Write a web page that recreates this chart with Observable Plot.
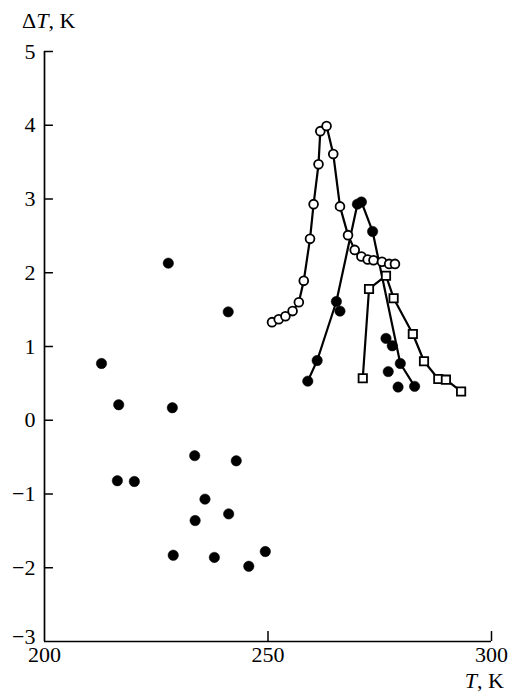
<!DOCTYPE html>
<html>
<head>
<meta charset="utf-8">
<script src="https://cdn.jsdelivr.net/npm/d3@7"></script>
<script src="https://cdn.jsdelivr.net/npm/@observablehq/plot@0.6"></script>
<style>
  html, body { margin: 0; padding: 0; background: #fff; }
  #chart svg { font-family: "Liberation Serif", "DejaVu Serif", serif; }
  #chart svg text { font-size: 22px; fill: #000; }
</style>
</head>
<body>
<div id="chart"></div>
<script>
// Open circles (connected)
const openT  = [250.9, 252.4, 253.9, 255.5, 256.9, 258.0, 259.4, 260.2, 261.3, 261.7, 263.1, 264.6, 266.1, 267.9, 269.4, 270.9, 272.3, 273.6, 275.5, 277.1, 278.4];
const opendT = [1.33, 1.37, 1.41, 1.48, 1.60, 1.89, 2.46, 2.93, 3.47, 3.92, 3.99, 3.61, 2.90, 2.51, 2.31, 2.22, 2.18, 2.17, 2.15, 2.12, 2.12];
// Filled circles (connected)
const lineT  = [258.9, 261.0, 265.3, 270.0, 270.9, 273.4, 279.6, 282.8];
const linedT = [0.53, 0.81, 1.61, 2.93, 2.96, 2.56, 0.77, 0.46];
// Filled circles (scattered)
const scatT  = [227.7, 241.1, 212.75, 216.6, 228.6, 216.3, 220.1, 233.6, 242.9, 235.9, 241.2, 233.7, 228.8, 238.0, 249.4, 245.7, 266.1, 276.4, 277.8, 276.9, 279.1];
const scatdT = [2.13, 1.47, 0.77, 0.21, 0.17, -0.82, -0.83, -0.48, -0.55, -1.07, -1.27, -1.36, -1.83, -1.86, -1.78, -1.98, 1.48, 1.11, 1.01, 0.66, 0.45];
// Open squares (connected)
const sqT  = [271.2, 272.6, 276.4, 278.1, 282.4, 284.9, 288.1, 289.8, 293.2];
const sqdT = [0.57, 1.78, 1.96, 1.655, 1.17, 0.80, 0.56, 0.55, 0.39];

const xTicks = [200, 250, 300];
const yTicks = [-3, -2, -1, 0, 1, 2, 3, 4, 5];

const zip = (a, b) => a.map((v, i) => ({x: v, y: b[i]}));
const openData = zip(openT, opendT);
const lineData = zip(lineT, linedT);
const scatData = zip(scatT, scatdT);
const sqData = zip(sqT, sqdT);
const fmt = d => d < 0 ? "\u2212" + Math.abs(d) : String(d);

const plot = Plot.plot({
  width: 512,
  height: 700,
  marginLeft: 44,
  marginRight: 21,
  marginTop: 51,
  marginBottom: 59,
  style: {fontFamily: "'Liberation Serif', serif", fontSize: "22px", background: "#fff", color: "#000"},
  x: {domain: [200, 300]},
  y: {domain: [-3, 5]},
  marks: [
    Plot.axisX({ticks: xTicks, tickSize: 0, tickPadding: 5, label: null, tickFormat: d => String(d)}),
    Plot.axisY({ticks: yTicks.filter(d => d > -3), tickSize: 0, tickPadding: 9, label: null, tickFormat: fmt}),
    Plot.axisY({ticks: [-3], tickSize: 0, tickPadding: 9, dy: -5, label: null, tickFormat: fmt}),
    Plot.ruleX([200], {stroke: "#000", strokeWidth: 1.7}),
    Plot.ruleY([-3], {stroke: "#000", strokeWidth: 1.7}),
    Plot.ruleY(yTicks.filter(d => d > -3), {x1: 200, x2: 202, stroke: "#000", strokeWidth: 1.5}),
    Plot.ruleX(xTicks.filter(d => d > 200), {y1: -3, y2: -2.865, stroke: "#000", strokeWidth: 1.5}),
    Plot.line(openData, {x: "x", y: "y", stroke: "#000", strokeWidth: 2.2}),
    Plot.line(lineData, {x: "x", y: "y", stroke: "#000", strokeWidth: 2.2}),
    Plot.line(sqData, {x: "x", y: "y", stroke: "#000", strokeWidth: 2.2}),
    Plot.dot(openData, {x: "x", y: "y", r: 4.4, fill: "#fff", stroke: "#000", strokeWidth: 1.8}),
    Plot.dot(sqData, {x: "x", y: "y", symbol: "square", r: 4.7, fill: "#fff", stroke: "#000", strokeWidth: 1.8}),
    Plot.dot(lineData, {x: "x", y: "y", r: 5.2, fill: "#000", stroke: "#000", strokeWidth: 0.5}),
    Plot.dot(scatData, {x: "x", y: "y", r: 5.2, fill: "#000", stroke: "#000", strokeWidth: 0.5})
  ]
});

document.getElementById("chart").appendChild(plot);

// Axis titles with italic T
const svg = d3.select(plot);
const yl = svg.append("text")
  .attr("x", 22).attr("y", 28)
  .attr("text-anchor", "start")
  .attr("font-family", "'Liberation Serif', serif");
yl.append("tspan").text("\u0394");
yl.append("tspan").attr("font-style", "italic").text("T");
yl.append("tspan").text(", K");

const xl = svg.append("text")
  .attr("x", 504).attr("y", 688)
  .attr("text-anchor", "end")
  .attr("font-family", "'Liberation Serif', serif");
xl.append("tspan").attr("font-style", "italic").text("T");
xl.append("tspan").text(", K");
</script>
</body>
</html>
